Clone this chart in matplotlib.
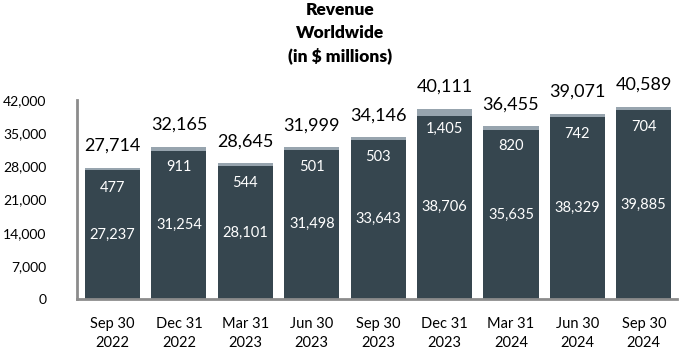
import matplotlib
matplotlib.use("Agg")
import matplotlib.pyplot as plt
import numpy as np

quarters = ["Sep 30\n2022", "Dec 31\n2022", "Mar 31\n2023", "Jun 30\n2023", "Sep 30\n2023",
            "Dec 31\n2023", "Mar 31\n2024", "Jun 30\n2024", "Sep 30\n2024"]
base_values = [27237, 31254, 28101, 31498, 33643, 38706, 35635, 38329, 39885]
top_values = [477, 911, 544, 501, 503, 1405, 820, 742, 704]
totals = [27714, 32165, 28645, 31999, 34146, 40111, 36455, 39071, 40589]
yticks = [0, 7000, 14000, 21000, 28000, 35000, 42000]

plt.rcParams['font.family'] = ['Lato', 'DejaVu Sans']

dark = "#36464f"
light = "#97a4ae"

fig = plt.figure(figsize=(6.8, 3.56), dpi=100)
ax = fig.add_axes([77/680, 1-299/356, (677-77)/680, (299-100)/356])

x = np.arange(len(quarters))
w = 0.83
ax.bar(x, base_values, width=w, color=dark, zorder=2)
ax.bar(x, top_values, width=w, bottom=base_values, color=light, zorder=2)

for i in range(len(x)):
    ax.text(x[i], base_values[i] / 2, f"{base_values[i]:,}", ha="center", va="center",
            color="white", fontsize=10.5)
    ax.annotate(f"{top_values[i]:,}", (x[i], totals[i]), xytext=(0, -20),
                textcoords="offset pixels", ha="center", va="center",
                color="white", fontsize=10.5)
    ax.annotate(f"{totals[i]:,}", (x[i], totals[i]), xytext=(0, 22),
                textcoords="offset pixels", ha="center", va="center",
                color="black", fontsize=13)

ax.set_xlim(-0.535, 8.5)
ax.set_ylim(0, 42000)
ax.set_yticks(yticks)
ax.set_yticklabels([f"{v:,}" for v in yticks], fontsize=10)
ax.set_xticks(x)
ax.set_xticklabels(quarters, fontsize=10.5, linespacing=1.45)
ax.tick_params(axis="both", length=0)
ax.tick_params(axis="y", pad=22)
ax.tick_params(axis="x", pad=13)

for s in ["top", "right"]:
    ax.spines[s].set_visible(False)
for s in ["left", "bottom"]:
    ax.spines[s].set_color("#8c8c8c")
    ax.spines[s].set_linewidth(2)

fig.text(0.5, 1-2/356, "Revenue\nWorldwide\n(in $ millions)", ha="center", va="top",
         fontsize=12.5, fontweight="heavy", linespacing=1.5)

fig.savefig("out.png", dpi=100)
